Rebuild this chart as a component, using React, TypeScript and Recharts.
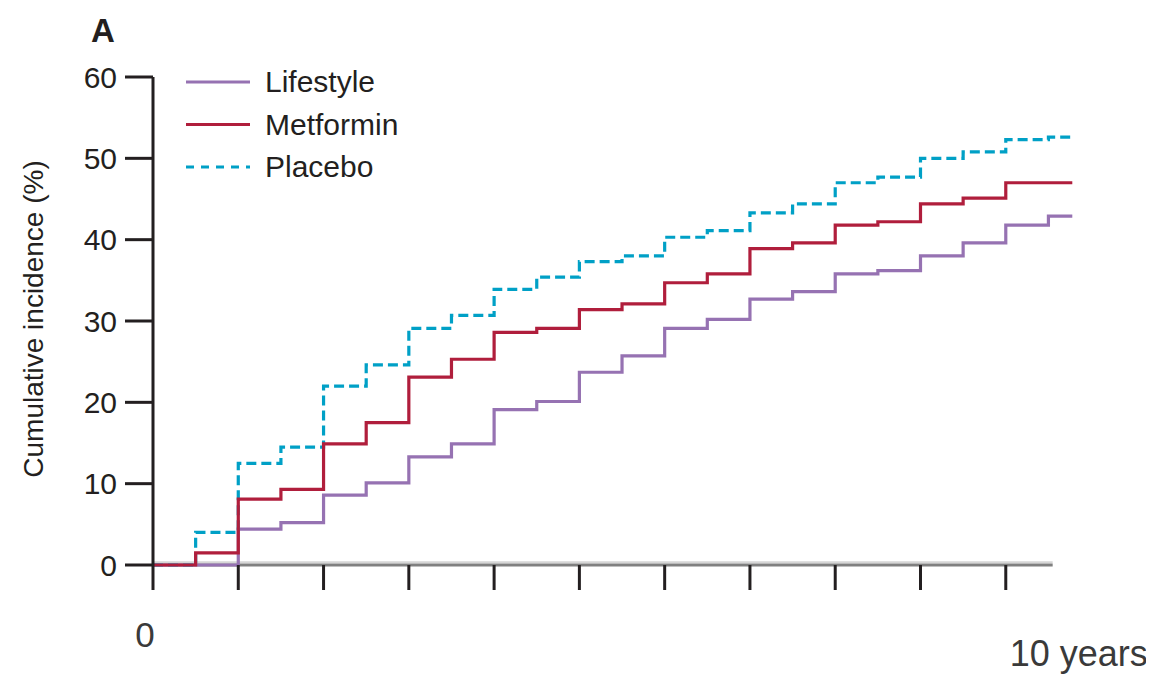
import { LineChart, Line, XAxis, YAxis, Legend, ReferenceLine } from "recharts";

// follow-up time (years); last entry is where the curves stop
const years = [0, 0.5, 1, 1.5, 2, 2.5, 3, 3.5, 4, 4.5, 5, 5.5, 6, 6.5, 7, 7.5, 8, 8.5, 9, 9.5, 10, 10.5, 10.78];
const lifestyle = [0, 0, 4.4, 5.2, 8.6, 10.1, 13.3, 14.9, 19.1, 20.1, 23.7, 25.7, 29.1, 30.2, 32.7, 33.6, 35.8, 36.2, 38.0, 39.6, 41.8, 42.9, 42.9];
const metformin = [0, 1.5, 8.1, 9.3, 14.9, 17.5, 23.1, 25.3, 28.6, 29.1, 31.4, 32.1, 34.7, 35.8, 38.9, 39.6, 41.8, 42.2, 44.4, 45.1, 47.0, 47.0, 47.0];
const placebo = [0, 4.0, 12.5, 14.5, 22.0, 24.6, 29.1, 30.7, 33.9, 35.4, 37.3, 38.0, 40.3, 41.1, 43.3, 44.4, 47.0, 47.7, 50.0, 50.8, 52.3, 52.6, 52.6];

const yTicks = [0, 10, 20, 30, 40, 50, 60];
const xTicks = [0, 1, 2, 3, 4, 5, 6, 7, 8, 9, 10];
const seriesNames = ["Lifestyle", "Metformin", "Placebo"];

const data = years.map((t, i) => ({
  t,
  lifestyle: lifestyle[i],
  metformin: metformin[i],
  placebo: placebo[i],
}));

const INK = "#231f20";
const COLORS = ["#9672b2", "#b01e3c", "#00a0c6"];
const FONT = "'Liberation Sans', Arial, sans-serif";

function LegendBox() {
  return (
    <svg width={280} height={140} style={{ overflow: "visible" }}>
      {seriesNames.map((name, i) => (
        <g key={name}>
          <line
            x1={0}
            x2={64}
            y1={14 + i * 42.5}
            y2={14 + i * 42.5}
            stroke={COLORS[i]}
            strokeWidth={3}
            strokeDasharray={name === "Placebo" ? "8 7" : undefined}
          />
          <text x={79} y={14 + i * 42.5 + 10} fontSize={30} fill={INK} fontFamily={FONT}>
            {name}
          </text>
        </g>
      ))}
    </svg>
  );
}

function XTick(props: any) {
  const { x, y, payload } = props;
  if (payload.value === 0) {
    return (
      <text x={x - 8} y={y + 57} textAnchor="middle" fontSize={35} fill="#3a3a3a" fontFamily={FONT}>
        0
      </text>
    );
  }
  if (payload.value === 10) {
    return (
      <text x={x + 4} y={y + 76} textAnchor="start" fontSize={36} fill="#3a3a3a" fontFamily={FONT}>
        10 years
      </text>
    );
  }
  return null;
}

function YLabel(props: any) {
  const vb = props.viewBox;
  const cx = 25;
  const cy = vb.y + vb.height / 2 - 2;
  return (
    <text
      x={cx}
      y={cy}
      textAnchor="middle"
      dominantBaseline="central"
      transform={`rotate(-90, ${cx}, ${cy})`}
      fontSize={28}
      fill={INK}
      fontFamily={FONT}
    >
      Cumulative incidence (%)
    </text>
  );
}

export default function App() {
  return (
    <div style={{ position: "relative", width: 1146, height: 667, fontFamily: FONT }}>
      <LineChart width={1146} height={667} data={data} margin={{ top: 69, right: 80, bottom: 80, left: 85 }}>
        <XAxis
          dataKey="t"
          type="number"
          domain={[0, 10.8]}
          ticks={xTicks}
          axisLine={false}
          tickSize={25}
          tickMargin={0}
          tickLine={{ stroke: INK, strokeWidth: 3 }}
          tick={<XTick />}
          interval={0}
        />
        <YAxis
          type="number"
          domain={[0, 60]}
          ticks={yTicks}
          width={60}
          tickSize={28}
          tickMargin={8}
          axisLine={{ stroke: INK, strokeWidth: 3 }}
          tickLine={{ stroke: INK, strokeWidth: 3 }}
          tick={{ fontSize: 30, fill: INK, fontFamily: FONT }}
          label={{ content: <YLabel /> }}
        />
        <ReferenceLine segment={[{ x: 0, y: 0.35 }, { x: 10.55, y: 0.35 }]} stroke="#d6d6d6" strokeWidth={2} />
        <ReferenceLine segment={[{ x: 0, y: 0 }, { x: 10.55, y: 0 }]} stroke="#808080" strokeWidth={3} />
        <Line type="stepAfter" dataKey="lifestyle" stroke={COLORS[0]} strokeWidth={3.2} dot={false} isAnimationActive={false} />
        <Line
          type="stepAfter"
          dataKey="placebo"
          stroke={COLORS[2]}
          strokeWidth={3.2}
          strokeDasharray="10 5"
          dot={false}
          isAnimationActive={false}
        />
        <Line type="stepAfter" dataKey="metformin" stroke={COLORS[1]} strokeWidth={3.2} dot={false} isAnimationActive={false} />
        <Legend
          layout="vertical"
          align="center"
          verticalAlign="middle"
          content={<LegendBox />}
          wrapperStyle={{ left: 178, top: 60, width: 280, height: 140 }}
        />
      </LineChart>
      <svg width={140} height={50} style={{ position: "absolute", left: 0, top: 0, pointerEvents: "none" }}>
        <text x={83} y={34} fontSize={33} fontWeight="bold" fill={INK} fontFamily={FONT}>
          A
        </text>
      </svg>
    </div>
  );
}
